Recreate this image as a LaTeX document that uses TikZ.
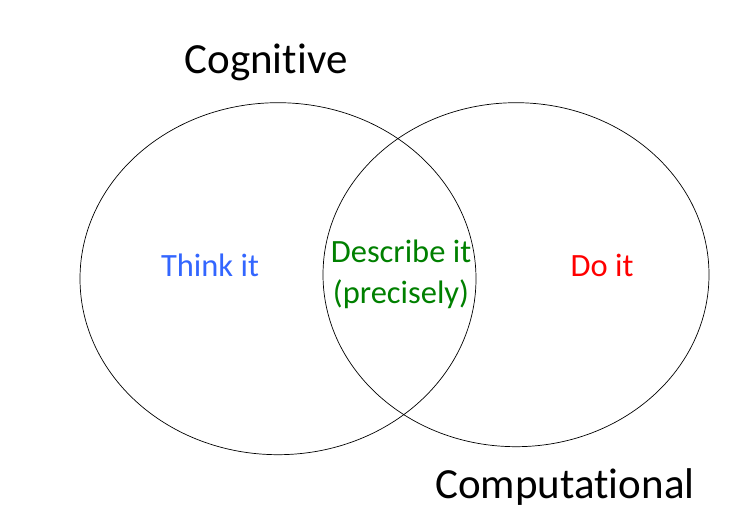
\documentclass[tikz,border=0pt]{standalone}
\usepackage{fontspec}
\setmainfont[Ligatures=NoCommon]{Carlito}
\definecolor{thinkblue}{RGB}{51,102,255}
\definecolor{describegreen}{RGB}{0,128,0}
\definecolor{dored}{RGB}{255,0,0}
\begin{document}
\begin{tikzpicture}[x=1pt,y=1pt,
  setring/.style={draw=black,line width=0.7pt},
  title/.style={font=\fontsize{43}{50}\selectfont,text=black},
  inner/.style={font=\fontsize{32.5}{41}\selectfont,align=center}]
\useasboundingbox (0,0) rectangle (743,521);
% the two overlapping sets
\draw[setring] (278,242.3) ellipse [x radius=198, y radius=176];
\draw[setring] (516,246.3) ellipse [x radius=193, y radius=172];
% set titles
\node[title] (cog) at (266,459) {Cognitive};
\node[title] (comp) at (565,34) {Computational};
% region labels
\node[inner,text=thinkblue] (think) at (210,256) {Think it};
\node[inner,text=describegreen] (describe) at (401,247) {Describe it\\(precisely)};
\node[inner,text=dored] (doit) at (602,256) {Do it};
\end{tikzpicture}
\end{document}
